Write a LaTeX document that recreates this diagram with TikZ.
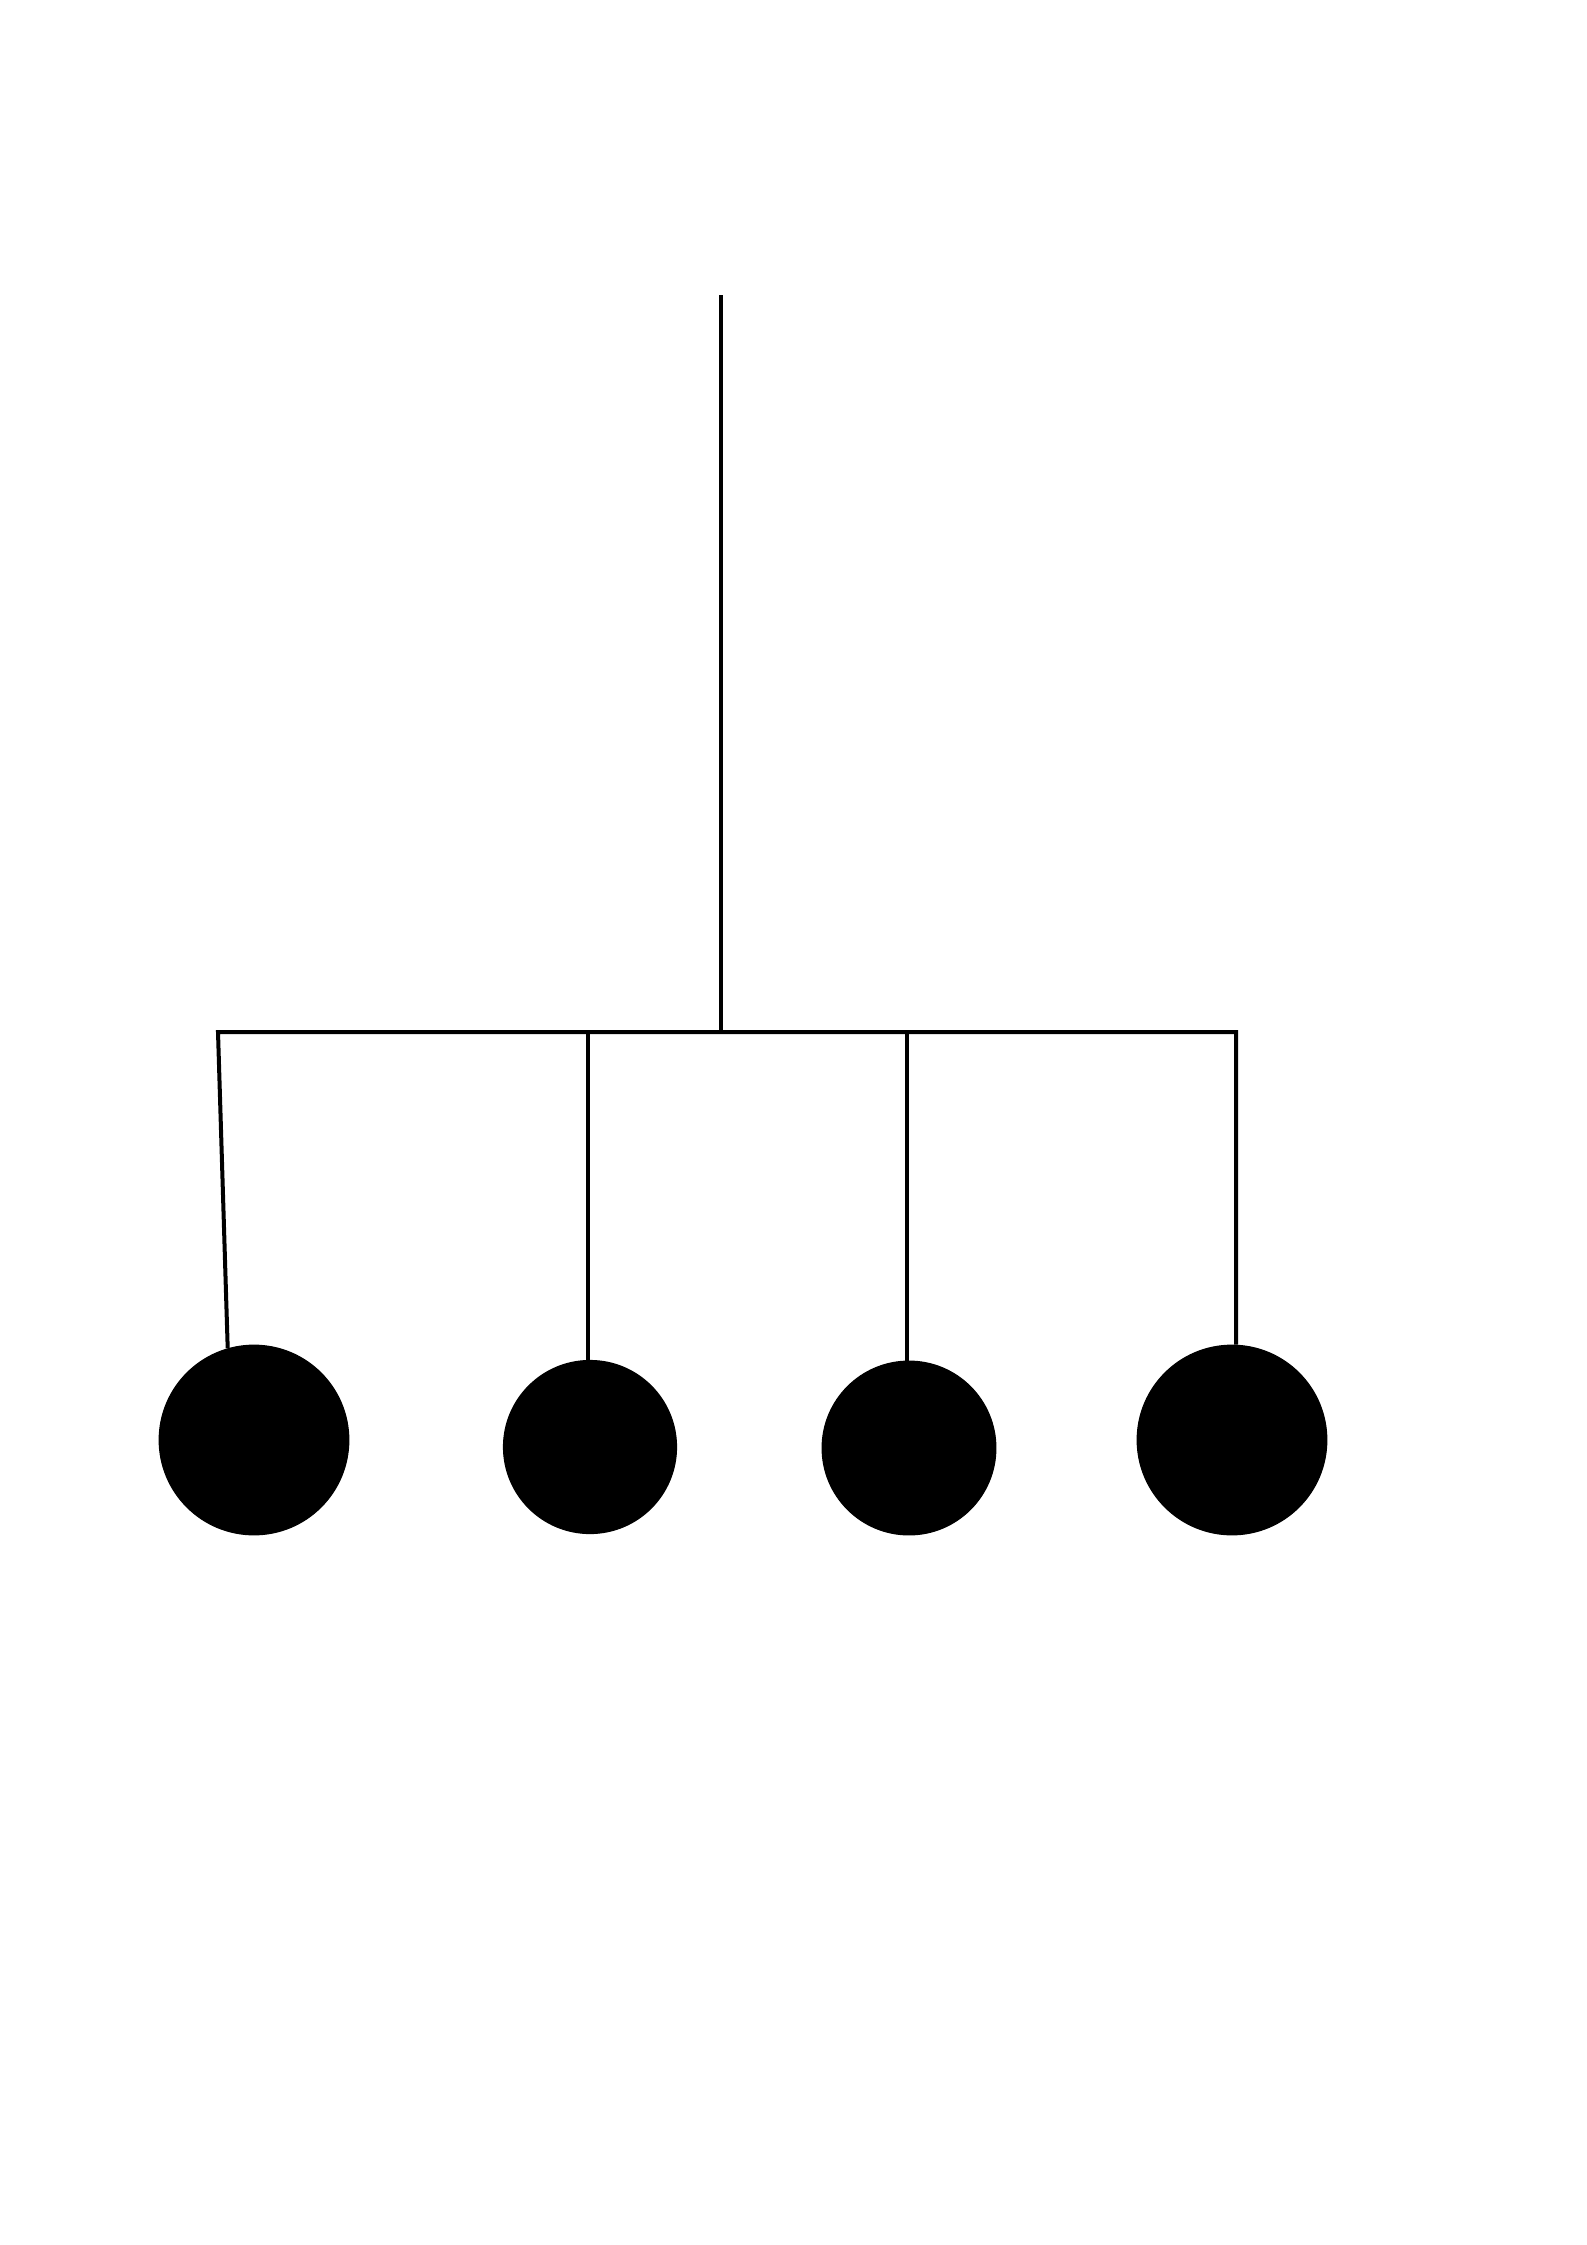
\documentclass[tikz,border=0pt]{standalone}
\usetikzlibrary{positioning}

\tikzset{
  bob/.style={circle, fill=black, draw=black, inner sep=0pt},
  wire/.style={line width=0.53mm, black},
}

\begin{document}
\begin{tikzpicture}[x=0.1323mm, y=-0.1323mm]
\useasboundingbox (0,0) rectangle (1587,2245);

\coordinate (T) at (721,295);

\coordinate (J0) at (721,1032);

\coordinate (J1) at (218,1032);

\coordinate (J2) at (588,1032);

\coordinate (J3) at (907,1032);

\coordinate (J4) at (1236,1032);

\node[bob, minimum size=25.1mm] (B1) at (254,1440) {};

\node[bob, minimum size=22.9mm] (B2) at (590,1447) {};

\node[bob, minimum size=23.0mm] (B3) at (909,1448) {};

\node[bob, minimum size=25.1mm] (B4) at (1232,1440) {};

\draw[wire] (T) -- (J0);
\draw[wire, line join=miter] (B1.106) -- (J1) -- (J4) -- (B4.north -| J4);
\draw[wire] (J2) -- (B2.north -| J2);
\draw[wire] (J3) -- (B3.north -| J3);
\end{tikzpicture}
\end{document}
